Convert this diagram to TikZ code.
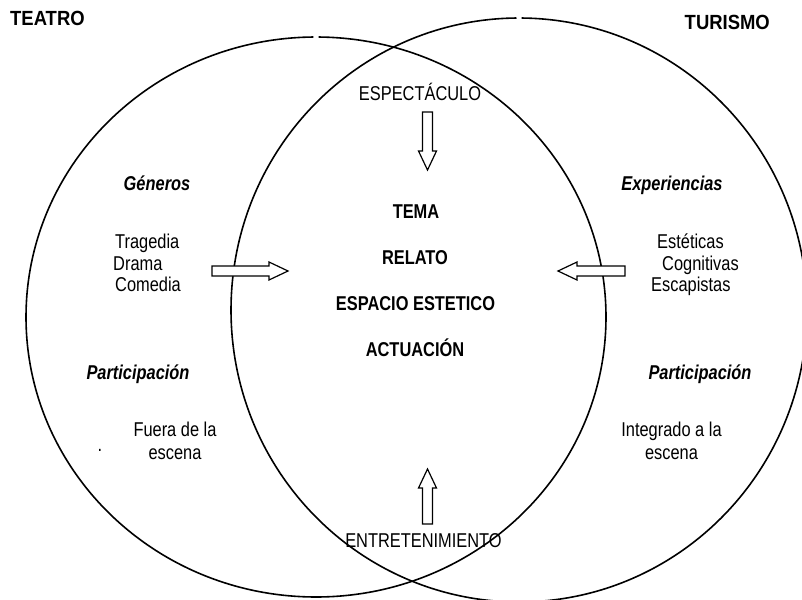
\documentclass[tikz,border=0pt]{standalone}
\usepackage{fontspec}
\setmainfont{Liberation Sans}[FakeStretch=0.82]
\newfontfamily\titlefont{Liberation Sans}[FakeStretch=0.9]
\begin{document}
\begin{tikzpicture}[x=1pt,y=-1pt,
  circ/.style={line width=1.6pt},
  arrline/.style={line width=1.2pt, fill=white},
  txt/.style={inner sep=0pt, font={\fontsize{20}{23}\selectfont}},
  hd/.style={inner sep=0pt, font={\fontsize{20}{23}\selectfont\bfseries}},
  ttl/.style={inner sep=0pt, font={\titlefont\fontsize{20.5}{24}\selectfont\bfseries}},
  sub/.style={inner sep=0pt, font={\fontsize{20}{23}\selectfont\bfseries\itshape}},
  pics/blockarr/.style={code={
    \draw[arrline] (0,-5) -- (#1-19,-5) -- (#1-19,-9) -- (#1,0) -- (#1-19,9) -- (#1-19,5) -- (0,5) -- cycle;}}
]
\fill[white] (0,0) rectangle (802,599);
\useasboundingbox (0,0) rectangle (802,599);

% circles
\coordinate (cl) at (316,317);
\coordinate (cr) at (519,310);
\draw[circ] ([shift={(89.5:290pt and 280pt)}]cl) arc [start angle=89.5, end angle=-269.5, x radius=290pt, y radius=280pt];
\draw[circ] ([shift={(89.5:288pt and 292pt)}]cr) arc [start angle=89.5, end angle=-269.5, x radius=288pt, y radius=292pt];

% titles
\node[ttl, anchor=mid west] (teatro) at (10,23) {TEATRO};
\node[ttl, anchor=mid east] (turismo) at (770,27) {TURISMO};

% centre
\node[txt, anchor=mid] (espect) at (420,98) {ESPECTÁCULO};
\node[hd, anchor=mid] (tema) at (416,216) {TEMA};
\node[hd, anchor=mid] (relato) at (415,262) {RELATO};
\node[hd, anchor=mid] (espacio) at (415.5,308) {ESPACIO ESTETICO};
\node[hd, anchor=mid] (actuacion) at (415,354) {ACTUACIÓN};
\node[txt, anchor=mid] (entre) at (423.5,545) {ENTRETENIMIENTO};

% left side
\node[sub, anchor=mid] (generos) at (157,188) {Géneros};
\node[txt, anchor=mid west] (tragedia) at (115,246) {Tragedia};
\node[txt, anchor=mid west] (drama) at (113,268) {Drama};
\node[txt, anchor=mid west] (comedia) at (115,289) {Comedia};
\node[sub, anchor=mid] (partl) at (138,377) {Participación};
\node[txt, align=center, anchor=north] (fuera) at (175,422) {Fuera de la\\escena};
\node[txt, anchor=base] (dot) at (100,451) {.};

% right side
\node[sub, anchor=mid] (exper) at (672,188) {Experiencias};
\node[txt, anchor=mid west] (esteticas) at (657,246) {Estéticas};
\node[txt, anchor=mid west] (cognitivas) at (662,268) {Cognitivas};
\node[txt, anchor=mid west] (escapistas) at (651,289) {Escapistas};
\node[sub, anchor=mid] (partr) at (700,377) {Participación};
\node[txt, align=center, anchor=north] (integ) at (671.5,422) {Integrado a la\\escena};

% block arrows
\pic at (212,271) {blockarr=76};
\pic[rotate=180] at (625,271) {blockarr=67};
\pic[rotate=-90] at (427.5,112) {blockarr=58};
\pic[rotate=90] at (427.5,524) {blockarr=55};
\end{tikzpicture}
\end{document}
